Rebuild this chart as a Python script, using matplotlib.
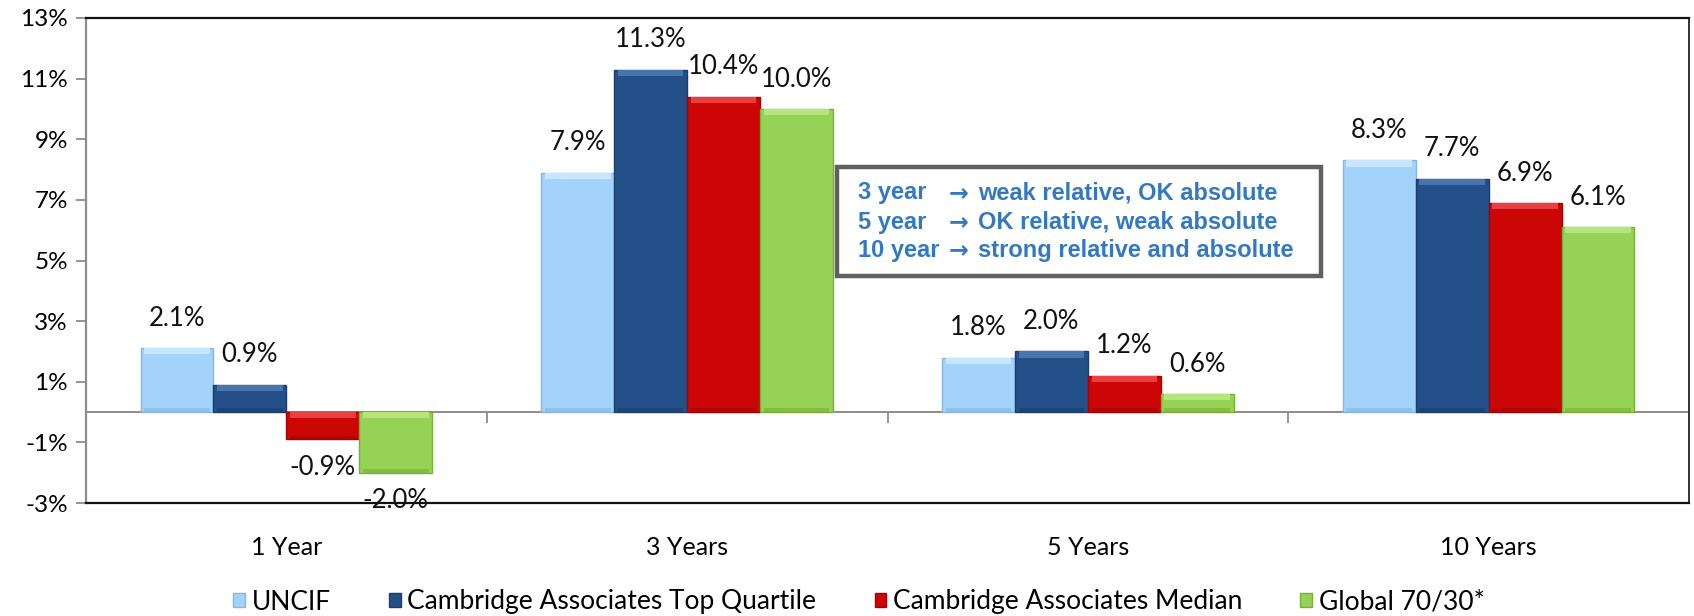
import matplotlib
matplotlib.use("Agg")
import matplotlib.pyplot as plt
from matplotlib.patches import Rectangle, Patch
import numpy as np

categories = ["1 Year", "3 Years", "5 Years", "10 Years"]
series_names = ["UNCIF", "Cambridge Associates Top Quartile",
                "Cambridge Associates Median", "Global 70/30*"]
uncif = [2.1, 7.9, 1.8, 8.3]
top_quartile = [0.9, 11.3, 2.0, 7.7]
median = [-0.9, 10.4, 1.2, 6.9]
global_7030 = [-2.0, 10.0, 0.6, 6.1]
yticks = [-3, -1, 1, 3, 5, 7, 9, 11, 13]
note_left = ["3 year", "5 year", "10 year"]
note_right = ["weak relative, OK absolute", "OK relative, weak absolute",
              "strong relative and absolute"]

colors = ["#A3D3FA", "#24508A", "#CC0505", "#96D255"]
lights = ["#C8E6FD", "#4A74AC", "#E84040", "#B6E57E"]
darks = ["#86B6DC", "#1A3D6A", "#A00303", "#78AE3A"]

FONT = "Lato"
fig = plt.figure(figsize=(16.94, 6.16), dpi=100)
ax = fig.add_axes([86 / 1694, 1 - 503 / 616, 1603 / 1694, 485 / 616])

series = [uncif, top_quartile, median, global_7030]
x = np.arange(len(categories))
w = 0.182
bev = 0.2
for i, (vals, c, lc, dc) in enumerate(zip(series, colors, lights, darks)):
    pos = x + (i - 1.5) * w
    vals = np.asarray(vals)
    ax.bar(pos, vals, width=w, color=c, edgecolor=dc, linewidth=1.0,
           label=series_names[i], zorder=3)
    hi = np.maximum(vals, 0)
    lo = np.minimum(vals, 0)
    # bevel highlight on upper end and darker strip on lower end
    ax.bar(pos, np.full_like(vals, bev), bottom=hi - bev, width=w * 0.9,
           color=lc, linewidth=0, zorder=4)
    ax.bar(pos, np.full_like(vals, bev * 0.6), bottom=lo, width=w * 0.9,
           color=dc, linewidth=0, zorder=4, alpha=0.6)
    for px, v in zip(pos, vals):
        off = 21.5 if v >= 0 else -20
        ax.annotate(f"{v:.1f}%", (px, v), xytext=(0, off),
                    textcoords="offset points", ha="center", va="center",
                    fontsize=18.5, family=FONT, color="#111111", zorder=6)

ax.set_xlim(-0.5, 3.5)
ax.set_ylim(-3, 13)
ax.set_yticks(yticks)
ax.set_yticklabels([f"{t}%" for t in yticks], fontsize=17.5, family=FONT)
ax.set_xticks(x)
ax.set_xticklabels(categories, fontsize=18, family=FONT)
ax.tick_params(axis="x", length=0, pad=24)
ax.tick_params(axis="y", length=7, width=1.3, color="#8c8c8c", pad=6)

for s in ["top", "bottom"]:
    ax.spines[s].set_color("#111111")
    ax.spines[s].set_linewidth(1.6)
ax.spines["right"].set_color("#333333")
ax.spines["right"].set_linewidth(1.4)
ax.spines["left"].set_color("#8c8c8c")
ax.spines["left"].set_linewidth(1.6)

# zero axis line with category separators
sec = ax.secondary_xaxis(3 / 16)
sec.set_xticks([0.5, 1.5, 2.5, 3.5])
sec.set_xticklabels([])
sec.tick_params(length=8, width=1.3, color="#8c8c8c", direction="out")
sec.spines["bottom"].set_color("#8c8c8c")
sec.spines["bottom"].set_linewidth(1.4)

# annotation box
bx0, bx1 = 837 / 1694, 1321 / 1694
by0, by1 = 1 - 276 / 616, 1 - 167 / 616
fig.patches.append(Rectangle((bx0, by0), bx1 - bx0, by1 - by0,
                             transform=fig.transFigure, facecolor="white",
                             edgecolor="#606060", linewidth=3.2, zorder=10))
line_y = [193, 222, 250]
for ly, lt, rt in zip(line_y, note_left, note_right):
    yy = 1 - ly / 616
    kw = dict(transform=fig.transFigure, fontsize=17, fontweight="bold",
              color="#3479C0", va="center", ha="left", zorder=11)
    fig.text(858 / 1694, yy, lt, family=["Liberation Sans", "DejaVu Sans"], **kw)
    fig.text(949 / 1694, yy, "\u2192", family=["DejaVu Sans"], **kw)
    fig.text(978 / 1694, yy, rt, family=["Liberation Sans", "DejaVu Sans"], **kw)

handles = [Patch(facecolor=c, edgecolor=dc) for c, dc in zip(colors, darks)]
fig.legend(handles, series_names, loc="center", ncol=4,
           bbox_to_anchor=(859 / 1694, 1 - 602 / 616), frameon=False,
           prop={"family": FONT, "size": 19}, handlelength=0.45,
           handleheight=0.45, handletextpad=0.25, columnspacing=2.2,
           borderaxespad=0, borderpad=0)

fig.savefig("out.png", dpi=100, facecolor="white")
